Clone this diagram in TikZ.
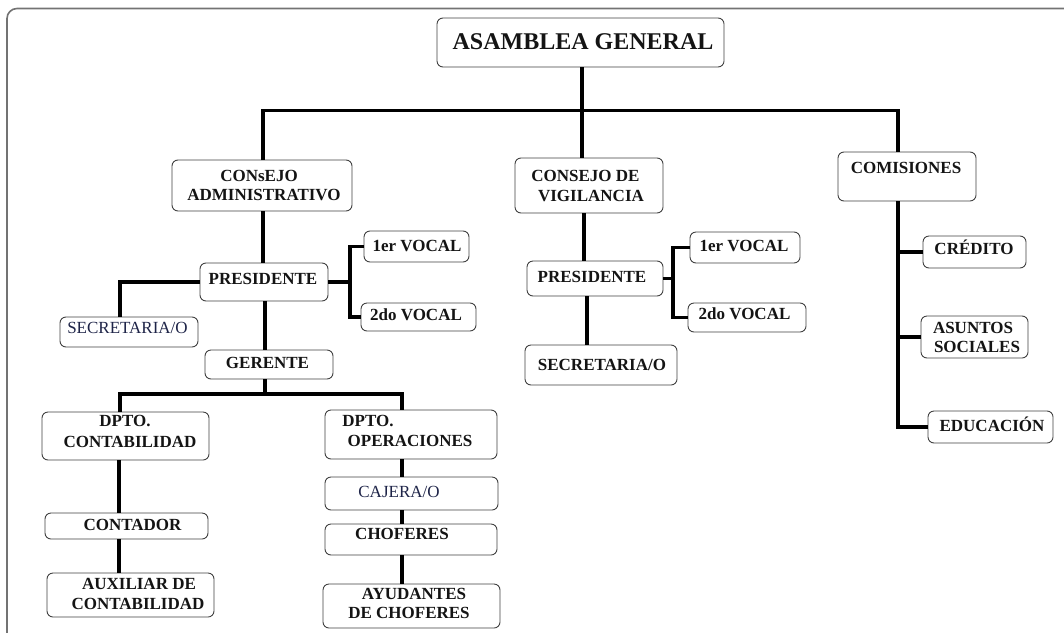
\documentclass[tikz,border=0pt]{standalone}
\usepackage{fontspec}
\setmainfont{Liberation Serif}
\definecolor{navy}{RGB}{30,36,72}
% rounded box given by its corners (x1,y1) (x2,y2)
\newcommand\obox[5]{\node[obox, minimum width={#4-#2}, minimum height={#5-#3}] (#1) at ({(#2+#4)/2},{(#3+#5)/2}) {};}
% one line of text: style, name, centre x, baseline y, text
\newcommand\otext[5]{\node[#1] (#2) at (#3,#4) {#5};}
\begin{document}
\begin{tikzpicture}[x=1pt,y=-1pt,
  obox/.style={draw=black!75, line width=0.9pt, rounded corners=6pt, fill=white, inner sep=0pt, outer sep=0pt},
  conn/.style={line width=3.8pt, black},
  lbl/.style={anchor=base, inner sep=0pt, font=\bfseries\fontsize{17}{20}\selectfont, text=black!92},
  lblr/.style={anchor=base, inner sep=0pt, font=\fontsize{17}{20}\selectfont, text=navy},
  lblbig/.style={anchor=base, inner sep=0pt, font=\bfseries\fontsize{24}{28}\selectfont, text=black!92},
  frame/.style={draw=black!55, line width=1.6pt, rounded corners=10pt}]
\useasboundingbox (0,0) rectangle (1064,632);

% page frame
\draw[frame] (1064,8.5) -- (7,8.5) -- (7,634);

% boxes
\obox{asam}{437}{18}{724}{67}
\obox{cadm}{172}{160}{352}{211}
\obox{presA}{200}{263}{328}{301}
\obox{voc1A}{364}{231}{469}{262}
\obox{voc2A}{361}{303}{476}{331}
\obox{secA}{60}{317}{198}{347}
\obox{ger}{205}{350}{333}{379}
\obox{dcont}{42}{412}{209}{460}
\obox{cont}{45}{513}{208}{539}
\obox{aux}{47}{573}{214}{617}
\obox{dop}{325}{410}{497}{459}
\obox{caj}{325}{477}{498}{510}
\obox{chof}{325}{524}{497}{555}
\obox{ayud}{323}{584}{500}{628}
\obox{cvig}{515}{158}{663}{213}
\obox{presB}{527}{261}{663}{296}
\obox{voc1B}{690}{232}{800}{263}
\obox{voc2B}{688}{303}{806}{332}
\obox{secB}{525}{345}{677}{385}
\obox{com}{838}{152}{976}{201}
\obox{cred}{923}{236}{1026}{268}
\obox{asun}{921}{316}{1028}{358}
\obox{edu}{928}{411}{1053}{443}

% vertical guide positions of the connectors
\coordinate (xA) at (263,0);
\coordinate (xC) at (898,0);
\coordinate (busTop) at (582,110.5);
\coordinate (xS) at (120,0);
\coordinate (xG) at (265,0);
\coordinate (busB) at (265,394);
\coordinate (xL) at (120,0);
\coordinate (xL2) at (119,0);
\coordinate (xR) at (402,0);
\coordinate (xM) at (584,0);
\coordinate (xM2) at (587,0);
\coordinate (jA) at (350,282);
\coordinate (jB) at (673,278.5);

% top level
\draw[conn] (asam.south -| busTop) -- (cvig.north -| busTop);
\draw[conn] (cadm.north -| xA) |- (busTop) -| (com.north -| xC);

% administrative council branch
\draw[conn] (cadm.south -| xA) -- (presA.north -| xA);
\draw[conn] (presA.east) -- (jA);
\draw[conn] (voc1A.west) -| (jA) |- (voc2A.west);
\draw[conn] (presA.west) -| (secA.north -| xS);
\draw[conn] (presA.south -| xG) -- (ger.north -| xG);
\draw[conn] (ger.south -| xG) -- (busB);
\draw[conn] (dcont.north -| xL) |- (busB) -| (dop.north -| xR);
\draw[conn] (dcont.south -| xL2) -- (cont.north -| xL2);
\draw[conn] (cont.south -| xL2) -- (aux.north -| xL2);
\draw[conn] (dop.south -| xR) -- (caj.north -| xR);
\draw[conn] (caj.south -| xR) -- (chof.north -| xR);
\draw[conn] (chof.south -| xR) -- (ayud.north -| xR);

% supervisory council branch
\draw[conn] (cvig.south -| xM) -- (presB.north -| xM);
\draw[conn] (presB.east) -- (jB);
\draw[conn] (voc1B.west) -| (jB) |- (voc2B.west);
\draw[conn] (presB.south -| xM2) -- (secB.north -| xM2);

% commissions branch
\draw[conn] (com.south -| xC) |- (edu.west);
\draw[conn] (cred.west) -- (cred.west -| xC);
\draw[conn] (asun.west) -- (asun.west -| xC);

% texts
\otext{lblbig}{tAsam}{583}{49}{ASAMBLEA GENERAL}
\otext{lbl}{tCadm1}{259}{181.5}{CONsEJO}
\otext{lbl}{tCadm2}{264}{200.5}{ADMINISTRATIVO}
\otext{lbl}{tPresA}{263}{284}{PRESIDENTE}
\otext{lbl}{tVoc1A}{417}{251.5}{1er VOCAL}
\otext{lbl}{tVoc2A}{416}{320.5}{2do VOCAL}
\otext{lblr}{tSecA}{127.5}{333}{SECRETARIA/O}
\otext{lbl}{tGer}{267.5}{368}{GERENTE}
\otext{lbl}{tDcont1}{125}{426.5}{DPTO.}
\otext{lbl}{tDcont2}{130}{447}{CONTABILIDAD}
\otext{lbl}{tCont}{132.5}{530}{CONTADOR}
\otext{lbl}{tAux1}{139}{589}{AUXILIAR DE}
\otext{lbl}{tAux2}{138}{609}{CONTABILIDAD}
\otext{lbl}{tDop1}{368}{426.5}{DPTO.}
\otext{lbl}{tDop2}{410}{446.5}{OPERACIONES}
\otext{lblr}{tCaj}{399}{497}{CAJERA/O}
\otext{lbl}{tChof}{402}{539}{CHOFERES}
\otext{lbl}{tAyud1}{414}{599}{AYUDANTES}
\otext{lbl}{tAyud2}{409}{618}{DE CHOFERES}
\otext{lbl}{tCvig1}{585.5}{181.5}{CONSEJO DE}
\otext{lbl}{tCvig2}{591}{201}{VIGILANCIA}
\otext{lbl}{tPresB}{592}{282}{PRESIDENTE}
\otext{lbl}{tVoc1B}{744}{251.5}{1er VOCAL}
\otext{lbl}{tVoc2B}{744.5}{319}{2do VOCAL}
\otext{lbl}{tSecB}{602}{370.5}{SECRETARIA/O}
\otext{lbl}{tCom}{906}{173}{COMISIONES}
\otext{lbl}{tCred}{974}{254}{CRÉDITO}
\otext{lbl}{tAsun1}{973}{333}{ASUNTOS}
\otext{lbl}{tAsun2}{977}{352}{SOCIALES}
\otext{lbl}{tEdu}{992}{431.5}{EDUCACIÓN}
\end{tikzpicture}
\end{document}
